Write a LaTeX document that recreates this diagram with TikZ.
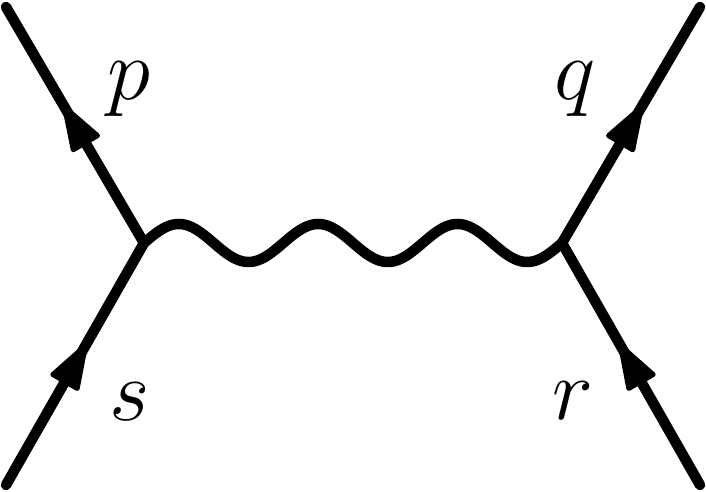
\documentclass[tikz,border=0pt]{standalone}
\usetikzlibrary{calc}
\begin{document}
\begin{tikzpicture}[x=0.01cm,y=-0.01cm,
  line width=0.105cm, line cap=round, line join=round,
  headfill/.style={fill=black, draw=black, line width=0.05cm, line join=round},
  lbl/.style={anchor=base, inner sep=0pt, font=\fontsize{33}{36}\selectfont}]
\useasboundingbox (0,0) rectangle (706,492);
\coordinate (L) at (144,243);
\coordinate (R) at (562,243);
\coordinate (P) at (6,7);
\coordinate (S) at (6,485);
\coordinate (Q) at (700,7);
\coordinate (Rr) at (700,485);
% fermion lines
\draw (S) -- (L) -- (P);
\draw (Rr) -- (R) -- (Q);
% arrowheads
\foreach \a/\b/\n in {S/L/1, L/P/2, Rr/R/3, R/Q/4}{
  \coordinate (t\n) at ($(\a)!0.575!(\b)$);
  \coordinate (c\n) at ($(t\n)!0.41cm!(\a)$);
  \coordinate (u\n) at ($(c\n)!0.14cm!90:(t\n)$);
  \coordinate (v\n) at ($(c\n)!0.14cm!-90:(t\n)$);
  \path[headfill] (t\n) -- (u\n) -- (v\n) -- cycle;
}
% photon
\draw[shift={(L)}] plot[domain=0:1080, samples=217, smooth] ({\x*0.387037}, {-19*sin(\x)});
\node[lbl] (p) at (129,100) {$p$};
\node[lbl] (q) at (575,100) {$q$};
\node[lbl] (s) at (130,421) {$s$};
\node[lbl] (r) at (573,420) {$r$};
\end{tikzpicture}
\end{document}
